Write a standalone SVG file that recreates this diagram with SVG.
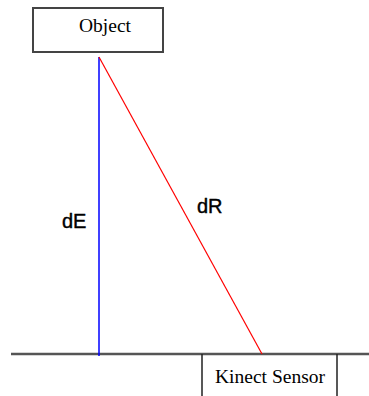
<svg xmlns="http://www.w3.org/2000/svg" width="369" height="396" viewBox="0 0 369 396">
<style>
.box{fill:#fff;stroke:#444;stroke-width:2}
.serif{font-family:"Liberation Serif","Times New Roman",serif;font-size:19.5px;fill:#000}
.sans{font-family:"Liberation Sans",Arial,sans-serif;font-size:20px;fill:#000;stroke:#000;stroke-width:0.4}
</style>
<rect width="369" height="396" fill="#fff"/>
<g id="connectors">
<line x1="11" y1="354" x2="369" y2="354" stroke="#555" stroke-width="2.5"/>
<line x1="99" y1="57" x2="99" y2="356" stroke="#0000ff" stroke-width="1.5"/>
<line x1="99" y1="57" x2="262" y2="354" stroke="#ff0000" stroke-width="1.2"/>
</g>
<g id="object">
<rect class="box" x="33" y="8" width="130" height="44"/>
<text class="serif" x="105" y="32" text-anchor="middle">Object</text>
</g>
<g id="kinect">
<path d="M202,354 V397 M337,354 V397" stroke="#222" stroke-width="1.5" fill="none"/>
<text class="serif" x="270" y="383" text-anchor="middle">Kinect Sensor</text>
</g>
<g id="labels">
<text class="sans" x="62" y="228">dE</text>
<text class="sans" x="197" y="213">dR</text>
</g>
</svg>
